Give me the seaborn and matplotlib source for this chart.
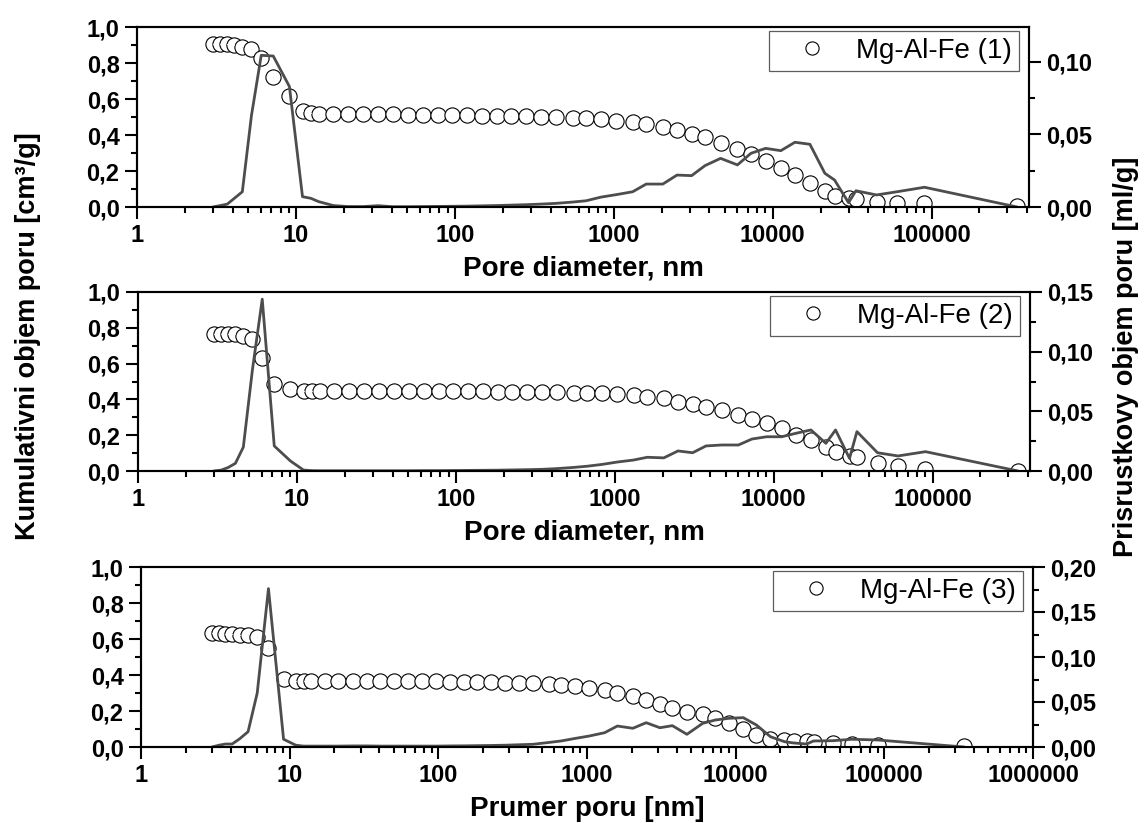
import matplotlib
matplotlib.use("Agg")
import matplotlib.pyplot as plt
import seaborn as sns
import pandas as pd
from matplotlib.ticker import FixedLocator, MultipleLocator, FuncFormatter, LogLocator, NullFormatter
from matplotlib.lines import Line2D

# ---------------- data ----------------
pore_nm = [3.0, 3.35, 3.7, 4.1, 4.6, 5.25, 6.05, 7.2, 9.1,
           11.0, 12.4, 13.9, 17.2, 21.2, 26.5, 33, 40.6, 50.5, 62.8,
           78, 96.5, 120, 149, 183, 226, 281, 348, 432, 551,
           670, 830, 1035, 1315, 1600, 2035, 2500, 3090, 3750, 4700,
           6000, 7300, 9030, 11250, 13800, 17150, 21300, 24500, 30000, 33400,
           45000, 60500, 90200, 345000]

cum1 = [0.906, 0.906, 0.905, 0.900, 0.890, 0.880, 0.830, 0.720, 0.617,
        0.533, 0.520, 0.515, 0.515, 0.515, 0.515, 0.515, 0.514, 0.513, 0.512,
        0.511, 0.511, 0.510, 0.506, 0.506, 0.506, 0.506, 0.502, 0.498, 0.496,
        0.493, 0.489, 0.480, 0.471, 0.461, 0.443, 0.428, 0.406, 0.387, 0.354,
        0.322, 0.294, 0.256, 0.219, 0.178, 0.131, 0.091, 0.061, 0.048, 0.043,
        0.030, 0.024, 0.020, 0.005]
inc1 = [0.0, 0.001, 0.002, 0.006, 0.0105, 0.063, 0.1045, 0.104, 0.083,
        0.0071, 0.006, 0.0037, 0.001, 0.0003, 0.0003, 0.0009, 0.0002, 0.0002, 0.0003,
        0.0004, 0.0005, 0.0006, 0.0008, 0.001, 0.0013, 0.0016, 0.002, 0.0025, 0.0034,
        0.0043, 0.0068, 0.0085, 0.0105, 0.0158, 0.0158, 0.022, 0.0216, 0.0285, 0.0335,
        0.029, 0.037, 0.0404, 0.0388, 0.0446, 0.0432, 0.0232, 0.0186, 0.003, 0.0112,
        0.0083, 0.0105, 0.0136, 0.0]

cum2 = [0.765, 0.765, 0.765, 0.763, 0.756, 0.737, 0.630, 0.484, 0.458,
        0.449, 0.449, 0.449, 0.449, 0.449, 0.449, 0.449, 0.449, 0.449, 0.449,
        0.449, 0.449, 0.449, 0.449, 0.443, 0.443, 0.443, 0.443, 0.443, 0.438,
        0.434, 0.434, 0.430, 0.425, 0.415, 0.406, 0.384, 0.373, 0.356, 0.341,
        0.313, 0.290, 0.266, 0.239, 0.201, 0.173, 0.136, 0.108, 0.084, 0.080,
        0.045, 0.028, 0.011, 0.0]
inc2 = [0.0, 0.0008, 0.003, 0.0064, 0.020, 0.085, 0.144, 0.021, 0.0084,
        0.0008, 0.0003, 0.0002, 0.0002, 0.0002, 0.0002, 0.0002, 0.0002, 0.0002, 0.0003,
        0.0003, 0.0004, 0.0005, 0.0006, 0.0007, 0.0009, 0.0011, 0.0014, 0.002, 0.003,
        0.004, 0.0055, 0.0075, 0.0092, 0.0115, 0.011, 0.0168, 0.0153, 0.021, 0.0218,
        0.0218, 0.0268, 0.0287, 0.0287, 0.0316, 0.0344, 0.0232, 0.0344, 0.0106, 0.033,
        0.0153, 0.0126, 0.0162, 0.0]

cum3 = [0.632, 0.632, 0.630, 0.628, 0.624, 0.620, 0.609, 0.548, 0.376,
        0.368, 0.366, 0.366, 0.366, 0.366, 0.366, 0.366, 0.366, 0.366, 0.366,
        0.366, 0.366, 0.363, 0.363, 0.362, 0.360, 0.357, 0.357, 0.354, 0.350,
        0.344, 0.341, 0.330, 0.317, 0.302, 0.283, 0.261, 0.239, 0.215, 0.193,
        0.182, 0.159, 0.131, 0.100, 0.067, 0.043, 0.039, 0.033, 0.033, 0.030,
        0.024, 0.017, 0.011, 0.006]
inc3 = [0.0, 0.002, 0.0033, 0.0033, 0.009, 0.017, 0.060, 0.176, 0.0086,
        0.002, 0.001, 0.001, 0.001, 0.001, 0.0012, 0.0012, 0.001, 0.001, 0.001,
        0.001, 0.001, 0.0012, 0.0013, 0.0015, 0.0017, 0.002, 0.0025, 0.003, 0.005,
        0.0067, 0.0095, 0.0122, 0.0159, 0.0233, 0.0208, 0.027, 0.0214, 0.0237, 0.0141,
        0.0263, 0.030, 0.0319, 0.0326, 0.0244, 0.0114, 0.0059, 0.0045, 0.0033, 0.0067,
        0.007, 0.0086, 0.0078, 0.0]

series_labels = ["Mg-Al-Fe (1)", "Mg-Al-Fe (2)", "Mg-Al-Fe (3)"]
x_labels = ["Pore diameter, nm", "Pore diameter, nm", "Prumer poru [nm]"]
x_ticks_12 = [1, 10, 100, 1000, 10000, 100000]
x_ticks_3 = [1, 10, 100, 1000, 10000, 100000, 1000000]
x_max = [4.1e5, 4.1e5, 1e6]
right_max = [0.124, 0.15, 0.20]
left_title = "Kumulativni objem poru [cm³/g]"
right_title = "Prisrustkovy objem poru [ml/g]"

# ---------------- style ----------------
sns.set_style("ticks")
plt.rcParams['font.family'] = ['Liberation Sans', 'DejaVu Sans']
plt.rcParams.update({'text.color': 'black', 'axes.labelcolor': 'black',
                     'xtick.color': 'black', 'ytick.color': 'black',
                     'axes.edgecolor': 'black', 'axes.linewidth': 1.5})

fig = plt.figure(figsize=(11.45, 8.23), dpi=100)
W, H = 1145.0, 823.0
boxes = [(137, 1029, 27, 207), (138, 1030, 292, 471), (141, 1033, 567, 747)]

cums = [cum1, cum2, cum3]
incs = [inc1, inc2, inc3]
tick_fs = 17
line_col = "#4d4d4d"

comma1 = FuncFormatter(lambda v, p: f"{v:.1f}".replace(".", ","))
comma2 = FuncFormatter(lambda v, p: f"{v:.2f}".replace(".", ","))

for i in range(3):
    l, r, t, b = boxes[i]
    ax = fig.add_axes([l / W, 1 - b / H, (r - l) / W, (b - t) / H])
    ax2 = ax.twinx()
    df = pd.DataFrame({"d": pore_nm, "cum": cums[i], "inc": incs[i]})

    sns.scatterplot(data=df, x="d", y="cum", ax=ax, marker="o", s=120,
                    facecolor="white", edgecolor="black", linewidth=0.8,
                    zorder=3, legend=False)
    sns.scatterplot(data=df, x="d", y="cum", ax=ax, marker=".", s=2,
                    color="#777777", linewidth=0, zorder=4, legend=False)
    sns.lineplot(data=df, x="d", y="inc", ax=ax2, color=line_col, lw=2.0,
                 sort=False, estimator=None, legend=False)

    for a in (ax, ax2):
        a.set_xscale("log")
        a.set_xlim(1, x_max[i])
    ax.set_ylim(0, 1.0)
    ax2.set_ylim(0, right_max[i])

    ticks = x_ticks_3 if i == 2 else x_ticks_12
    ax.xaxis.set_major_locator(FixedLocator(ticks))
    ax.set_xticklabels([str(v) for v in ticks])
    ax.xaxis.set_minor_locator(LogLocator(base=10, subs=range(2, 10), numticks=20))
    ax.xaxis.set_minor_formatter(NullFormatter())

    ax.yaxis.set_major_locator(MultipleLocator(0.2))
    ax.yaxis.set_minor_locator(MultipleLocator(0.1))
    ax.yaxis.set_major_formatter(comma1)
    ax2.yaxis.set_major_locator(MultipleLocator(0.05))
    ax2.yaxis.set_minor_locator(MultipleLocator(0.025))
    ax2.yaxis.set_major_formatter(comma2)

    for a in (ax, ax2):
        for s in a.spines.values():
            s.set_linewidth(1.5)
            s.set_color("black")
            s.set_visible(True)
    ax.tick_params(axis="both", which="major", direction="out", length=8.6, width=1.5,
                   labelsize=tick_fs, pad=4, top=False, colors="black")
    ax.tick_params(axis="both", which="minor", direction="out", length=4.3, width=1.5, top=False)
    ax2.tick_params(axis="y", which="major", direction="out", length=8.6, width=1.5,
                    labelsize=tick_fs, pad=4, colors="black")
    ax2.tick_params(axis="y", which="minor", direction="out", length=4.3, width=1.5)
    ax2.tick_params(axis="x", which="both", top=True, bottom=False, direction="in",
                    length=2, width=0.6, labeltop=False, labelbottom=False)
    for lab in ax.get_xticklabels() + ax.get_yticklabels() + ax2.get_yticklabels():
        lab.set_fontweight("bold")
        lab.set_color("black")

    ax.set_xlabel(x_labels[i], fontsize=20, fontweight="bold", labelpad=6, color="black")
    ax.set_ylabel("")
    ax2.set_ylabel("")

    handle = Line2D([], [], marker="o", ls="none", ms=9.5, mfc="white",
                    mec="black", mew=0.8)
    leg = ax2.legend([handle], [series_labels[i]], loc="upper right",
                     bbox_to_anchor=(1 - 10 / (r - l), 1 - 4 / (b - t)),
                     borderaxespad=0, fontsize=20, frameon=True, fancybox=False,
                     handlelength=2.6, handletextpad=0.3, borderpad=0.25)
    leg.get_frame().set_edgecolor("#333333")
    leg.get_frame().set_linewidth(0.9)
    for txt in leg.get_texts():
        txt.set_color("black")

fig.text(28 / W, 1 - 540 / H, left_title, rotation=90, ha="center", va="bottom",
         fontsize=19.5, fontweight="bold", color="black")
fig.text(1126 / W, 1 - 557 / H, right_title, rotation=90, ha="center", va="bottom",
         fontsize=19.5, fontweight="bold", color="black")

fig.savefig("out.png", dpi=100)
